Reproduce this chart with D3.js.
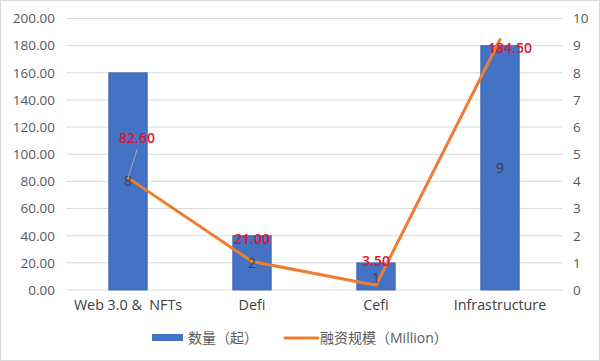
<!DOCTYPE html>
<html><head><meta charset="utf-8">
<script src="https://cdn.jsdelivr.net/npm/d3@7"></script>
<style>body{margin:0;background:#fff}svg{display:block}text{white-space:pre}</style>
</head><body><svg id="c" width="600" height="361"></svg>
<script>
const categories = ["Web 3.0 &  NFTs", "Defi", "Cefi", "Infrastructure"];
const counts = [8, 2, 1, 9];
const funding = [82.60, 21.00, 3.50, 184.50];
const leftTicks = [0,20,40,60,80,100,120,140,160,180,200];
const rightTicks = [0,1,2,3,4,5,6,7,8,9,10];
const seriesNames = ["数量（起）", "融资规模（Million）"];

const W = 600, H = 361;
const m = {l: 66, r: 38, t: 18.5, b: 71};
const svg = d3.select("#c");
const font = "'Open Sans', 'Noto Sans CJK SC', sans-serif";
const fs = 13.5;
svg.append("rect").attr("x",0.5).attr("y",0.5).attr("width",W-1).attr("height",H-1)
  .attr("fill","#fff").attr("stroke","#d9d9d9");

const x = d3.scaleBand().domain(categories).range([m.l, W-m.r]).paddingInner(0.69).paddingOuter(0.345);
const yL = d3.scaleLinear().domain([0,200]).range([H-m.b, m.t]);
const yR = d3.scaleLinear().domain([0,10]).range([H-m.b, m.t]);

// gridlines
svg.append("g").selectAll("line").data(leftTicks).join("line")
  .attr("x1", m.l).attr("x2", W-m.r).attr("y1", d=>yL(d)).attr("y2", d=>yL(d))
  .attr("stroke", "#d9d9d9").attr("stroke-width", 1);

// left axis
const ga = svg.append("g").attr("transform",`translate(${m.l-11},0)`)
  .call(d3.axisLeft(yL).tickValues(leftTicks).tickFormat(d3.format(".2f")).tickSize(0).tickPadding(0));
ga.select(".domain").remove();
ga.selectAll("text").attr("font-family",font).attr("font-size",fs).attr("fill","#595959");

// right axis
const gr = svg.append("g").attr("transform",`translate(${W-m.r+11},0)`)
  .call(d3.axisRight(yR).tickValues(rightTicks).tickFormat(d3.format("d")).tickSize(0).tickPadding(0));
gr.select(".domain").remove();
gr.selectAll("text").attr("font-family",font).attr("font-size",fs).attr("fill","#595959");

// x axis labels
const gx = svg.append("g").attr("transform",`translate(0,${H-m.b+7})`)
  .call(d3.axisBottom(x).tickSize(0).tickPadding(0));
gx.select(".domain").remove();
gx.selectAll("text").attr("font-family",font).attr("font-size",14.3).attr("fill","#404040").attr("dy","0.9em");

// bars
svg.append("g").selectAll("rect").data(counts).join("rect")
  .attr("x",(d,i)=>x(categories[i])).attr("width",x.bandwidth())
  .attr("y",d=>yR(d)).attr("height",d=>yR(0)-yR(d))
  .attr("fill","#4472C4").attr("stroke","#3a63ad").attr("stroke-width",0.8);

// line
const pts = funding.map((v,i)=>[x(categories[i])+x.bandwidth()/2, yL(v)]);
svg.append("path").datum(pts).attr("d", d3.line())
  .attr("fill","none").attr("stroke","#ED7D31").attr("stroke-width",3).attr("stroke-linejoin","round").attr("stroke-linecap","round");

// bar labels
const bdy = [0, 0, 2, 0];
svg.append("g").selectAll("text").data(counts).join("text")
  .attr("x",(d,i)=>x(categories[i])+x.bandwidth()/2)
  .attr("y",(d,i)=>(yR(d)+yR(0))/2 + bdy[i]).attr("dy","0.35em")
  .attr("text-anchor","middle").attr("font-family",font).attr("font-size",14).attr("fill","#404040")
  .text(d=>d);

// funding labels (offsets relative to points)
const off = [[9,-40],[0,-22],[0,-24],[10,9]];
svg.append("line").attr("x1",pts[0][0]+9).attr("y1",pts[0][1]-28).attr("x2",pts[0][0]).attr("y2",pts[0][1])
  .attr("stroke","#a6a6a6").attr("stroke-width",1);
svg.append("g").selectAll("text").data(funding).join("text")
  .attr("x",(d,i)=>pts[i][0]+off[i][0]).attr("y",(d,i)=>pts[i][1]+off[i][1]).attr("dy","0.35em")
  .attr("text-anchor","middle").attr("font-family",font).attr("font-size",14).attr("font-weight","600").attr("fill","#E0142D")
  .text(d=>d3.format(".2f")(d));

// legend
const lg = svg.append("g").attr("font-family",font).attr("font-size",14).attr("fill","#595959");
lg.append("rect").attr("x",152).attr("y",334).attr("width",31).attr("height",7).attr("fill","#4472C4");
lg.append("text").attr("x",188).attr("y",338).attr("dy","0.35em").attr("fill","#595959").text(seriesNames[0]);
lg.append("line").attr("x1",285).attr("x2",318).attr("y1",338).attr("y2",338).attr("stroke","#ED7D31").attr("stroke-width",3).attr("stroke-linecap","round");
lg.append("text").attr("x",320).attr("y",338).attr("dy","0.35em").attr("fill","#595959").text(seriesNames[1]);
</script></body></html>
